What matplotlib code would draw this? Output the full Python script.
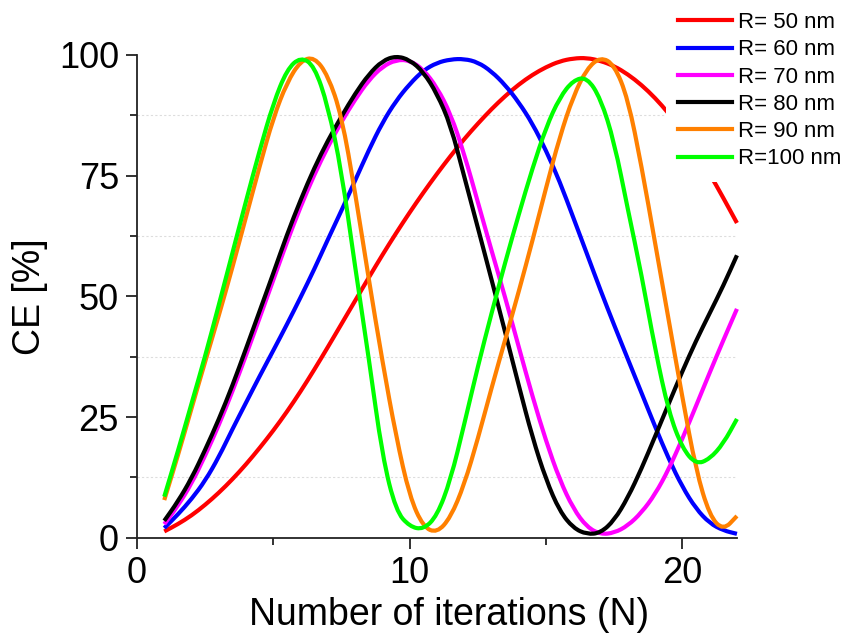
import numpy as np
import matplotlib
matplotlib.use("Agg")
import matplotlib.pyplot as plt
from matplotlib.ticker import MultipleLocator
from matplotlib.path import Path
from matplotlib.patches import PathPatch
from matplotlib.lines import Line2D

plt.rcParams["font.family"] = ["Liberation Sans", "DejaVu Sans"]

# iteration number, values every half step
n_iter = np.arange(1, 22.5, 0.5)

ce_r50 = [1.3, 2.8, 4.6, 6.8, 9.3, 12.1, 15.2, 18.6, 22.2, 26.1,
          30.3, 34.8, 39.5, 44.3, 49.1, 53.9, 58.6, 63.1, 67.4, 71.5,
          75.4, 79.1, 82.6, 85.8, 88.8, 91.5, 93.9, 95.9, 97.5, 98.7,
          99.3, 99.4, 98.8, 97.7, 96.0, 93.8, 91.1, 87.9, 84.2, 80.0,
          75.4, 70.4, 65.2]
ce_r60 = [2.0, 4.8, 8.0, 11.8, 16.7, 22.5, 28.0, 33.5, 38.8, 44.2,
          49.8, 55.6, 61.8, 67.8, 74.0, 80.3, 86.0, 90.5, 94.0, 96.8,
          98.4, 99.1, 99.2, 98.5, 96.6, 93.8, 90.2, 85.8, 80.2, 73.8,
          66.3, 58.8, 51.2, 44.0, 37.0, 30.0, 23.0, 16.3, 10.5, 6.0,
          3.0, 1.5, 0.8]
ce_r70 = [2.8, 6.6, 11.2, 17.0, 23.3, 30.3, 37.8, 45.6, 53.4, 61.3,
          68.6, 75.2, 81.0, 86.2, 90.8, 94.8, 97.6, 99.0, 98.9, 97.0,
          93.3, 87.8, 79.5, 69.5, 59.5, 49.8, 39.5, 29.3, 20.0, 12.0,
          6.0, 2.2, 0.7, 1.0, 2.5, 5.2, 9.0, 14.2, 20.5, 27.3,
          34.2, 40.9, 47.4]
ce_r80 = [3.5, 7.5, 12.3, 18.2, 24.5, 31.5, 39.2, 47.0, 54.8, 62.8,
          70.0, 76.6, 82.3, 87.3, 92.0, 96.0, 98.8, 99.8, 99.0, 96.5,
          92.0, 85.5, 74.8, 64.2, 53.5, 42.6, 31.5, 20.8, 12.0, 5.5,
          2.0, 0.7, 1.0, 3.6, 8.3, 14.3, 21.0, 27.8, 34.5, 40.8,
          46.5, 52.2, 58.5]
ce_r90 = [7.8, 17.0, 26.8, 36.5, 46.0, 56.0, 66.5, 77.0, 87.0, 94.3,
          98.8, 99.6, 95.8, 87.5, 71.5, 53.5, 36.5, 21.0, 8.5, 2.2,
          1.0, 4.2, 11.0, 20.5, 31.0, 41.0, 51.0, 61.5, 72.5, 83.0,
          91.5, 97.2, 99.6, 98.0, 91.0, 77.0, 61.0, 45.0, 29.0, 14.0,
          4.5, 1.5, 4.5]
ce_r100 = [8.5, 17.9, 27.8, 37.6, 48.2, 59.0, 69.8, 80.3, 90.0, 97.0,
           99.6, 97.8, 89.5, 76.0, 56.0, 37.2, 16.8, 5.5, 2.3, 1.7,
           4.5, 12.0, 23.5, 35.5, 46.5, 57.0, 67.0, 76.5, 85.0, 91.2,
           94.8, 95.4, 91.0, 82.0, 68.0, 54.5, 39.0, 26.0, 18.5, 15.2,
           16.3, 19.5, 24.6]

labels = ["R= 50 nm", "R= 60 nm", "R= 70 nm", "R= 80 nm", "R= 90 nm", "R=100 nm"]
colors = ["#ff0000", "#0000ff", "#ff00ff", "#000000", "#ff8000", "#00ff00"]
series = [ce_r50, ce_r60, ce_r70, ce_r80, ce_r90, ce_r100]


def smooth_path(x, y):
    # quadratic bezier through the midpoints, read points as control points
    pts = np.column_stack([x, y])
    mids = (pts[:-1] + pts[1:]) / 2
    verts = [pts[0], mids[0]]
    codes = [Path.MOVETO, Path.LINETO]
    for i in range(1, len(pts) - 1):
        verts += [pts[i], mids[i]]
        codes += [Path.CURVE3, Path.CURVE3]
    verts.append(pts[-1])
    codes.append(Path.LINETO)
    return Path(verts, codes)


fig = plt.figure(figsize=(8.43, 6.38), dpi=100)
ax = fig.add_axes([0.1625, 0.1572, 0.7117, 0.7566])

handles = []
for vals, lab, col in zip(series, labels, colors):
    patch = PathPatch(smooth_path(n_iter, vals), fill=False, edgecolor=col,
                      lw=3, clip_on=False, capstyle="butt")
    ax.add_patch(patch)
    handles.append(Line2D([], [], color=col, lw=3, label=lab))

ax.set_xlim(0, 22)
ax.set_ylim(0, 100)
ax.xaxis.set_major_locator(MultipleLocator(10))
ax.xaxis.set_minor_locator(MultipleLocator(5))
ax.yaxis.set_major_locator(MultipleLocator(25))
ax.yaxis.set_minor_locator(MultipleLocator(12.5))
ax.grid(which="minor", axis="y", color="#dddddd", ls=(0, (2, 2)), lw=0.8)
ax.set_axisbelow(True)

for side in ["top", "right"]:
    ax.spines[side].set_visible(False)
for side in ["left", "bottom"]:
    ax.spines[side].set_linewidth(1.3)
    ax.spines[side].set_color("#222222")

ax.tick_params(which="major", length=8, width=1.3, labelsize=26, direction="out",
               color="#222222", pad=5)
ax.tick_params(which="minor", length=5, width=1.3, direction="out", color="#222222")

ax.set_xlabel("Number of iterations (N)", fontsize=27)
ax.xaxis.set_label_coords(0.52, -0.122)
ax.set_ylabel("CE [%]", fontsize=27, labelpad=8)

leg = fig.legend(handles=handles, loc="upper right", bbox_to_anchor=(1.012, 1.0),
                 fontsize=16, frameon=True, handlelength=2.4, handletextpad=0.27,
                 labelspacing=0.28, borderaxespad=0, borderpad=0.55)
leg.get_frame().set_facecolor("white")
leg.get_frame().set_edgecolor("none")
leg.get_frame().set_alpha(1)

fig.savefig("out.png", dpi=100)
